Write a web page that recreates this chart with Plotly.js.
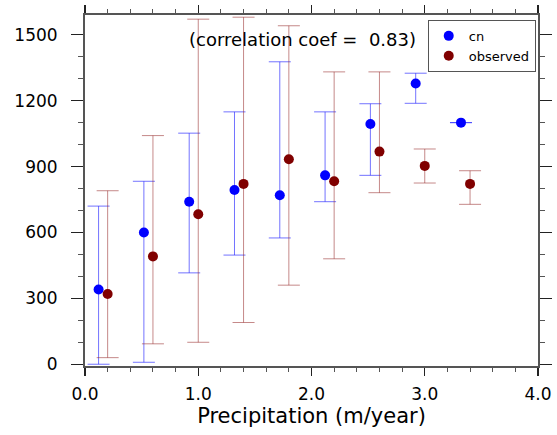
<!DOCTYPE html>
<html>
<head>
<meta charset="utf-8">
<script src="https://cdn.plot.ly/plotly-3.0.1.min.js"></script>
<style>html,body{margin:0;padding:0;background:#fff;}#chart{width:557px;height:435px;}</style>
</head>
<body>
<div id="chart"></div>
<script>
// Precipitation bins (m/year) for each series
const cnPrecip = [0.12, 0.52, 0.92, 1.32, 1.72, 2.12, 2.52, 2.92, 3.32];
const obsPrecip = [0.2, 0.6, 1.0, 1.4, 1.8, 2.2, 2.6, 3.0, 3.4];

// cn: mean with upper and lower bounds
const cnMean = [340, 600, 740, 793, 769, 860, 1094, 1278, 1100];
const cnUpper = [720, 833, 1052, 1149, 1377, 1149, 1186, 1325, 1100];
const cnLower = [0, 9, 416, 497, 575, 740, 860, 1188, 1100];

// observed: mean with upper and lower bounds
const obsMean = [320, 491, 683, 821, 933, 833, 968, 903, 821];
const obsUpper = [790, 1041, 1571, 1580, 1541, 1331, 1331, 980, 881];
const obsLower = [30, 93, 100, 190, 360, 480, 781, 825, 728];

const xTickVals = [0, 1, 2, 3, 4];
const xTickText = ['0.0', '1.0', '2.0', '3.0', '4.0'];
const yTickVals = [0, 300, 600, 900, 1200, 1500];

const corrText = "(correlation coef =&nbsp;&nbsp;0.83)";

const up = (hi, m) => hi.map((v, i) => v - m[i]);
const down = (lo, m) => lo.map((v, i) => m[i] - v);

const traces = [
  {
    type: 'scatter', mode: 'markers', name: 'cn',
    x: cnPrecip, y: cnMean,
    marker: {color: '#0000ff', size: 10},
    error_y: {type: 'data', symmetric: false, array: up(cnUpper, cnMean), arrayminus: down(cnLower, cnMean),
              color: 'rgba(40,40,255,0.65)', thickness: 1, width: 11}
  },
  {
    type: 'scatter', mode: 'markers', name: 'observed',
    x: obsPrecip, y: obsMean,
    marker: {color: '#800000', size: 10},
    error_y: {type: 'data', symmetric: false, array: up(obsUpper, obsMean), arrayminus: down(obsLower, obsMean),
              color: 'rgba(150,40,40,0.55)', thickness: 1, width: 11}
  }
];

const font = 'DejaVu Sans, Verdana, sans-serif';

const layout = {
  width: 557, height: 435,
  margin: {l: 85, r: 19, t: 15, b: 69},
  paper_bgcolor: '#fff', plot_bgcolor: '#fff',
  font: {family: font, color: '#000'},
  showlegend: true,
  legend: {x: 0.995, y: 0.986, xanchor: 'right', yanchor: 'top',
           bordercolor: '#555', borderwidth: 1, bgcolor: '#fff',
           font: {size: 13, family: font}, tracegroupgap: 0, itemwidth: 30},
  xaxis: {
    range: [0, 4], tickvals: xTickVals, ticktext: xTickText,
    showgrid: false, zeroline: false, showline: true, linecolor: '#555', linewidth: 2,
    mirror: 'ticks', ticks: 'outside', ticklen: 8, tickwidth: 1.3, tickcolor: '#222',
    ticklabelstandoff: 4,
    tickfont: {size: 17},
    minor: {dtick: 0.2, ticks: 'outside', ticklen: 4, tickcolor: '#555', tickwidth: 1},
    title: {text: 'Precipitation (m/year)', font: {size: 21}, standoff: 4}
  },
  yaxis: {
    range: [-8, 1590], tickvals: yTickVals,
    showgrid: false, zeroline: false, showline: true, linecolor: '#555', linewidth: 2,
    mirror: 'ticks', ticks: 'outside', ticklen: 12, tickwidth: 1.3, tickcolor: '#222',
    ticklabelstandoff: 10,
    tickfont: {size: 17},
    minor: {dtick: 100, ticks: 'outside', ticklen: 5, tickcolor: '#555', tickwidth: 1}
  },
  annotations: [{
    text: corrText, xref: 'paper', yref: 'paper', x: 0.48, y: 0.929,
    xanchor: 'center', yanchor: 'middle',
    showarrow: false, font: {size: 18, family: font}
  }]
};

Plotly.newPlot('chart', traces, layout, {displayModeBar: false, staticPlot: true});
</script>
</body>
</html>
